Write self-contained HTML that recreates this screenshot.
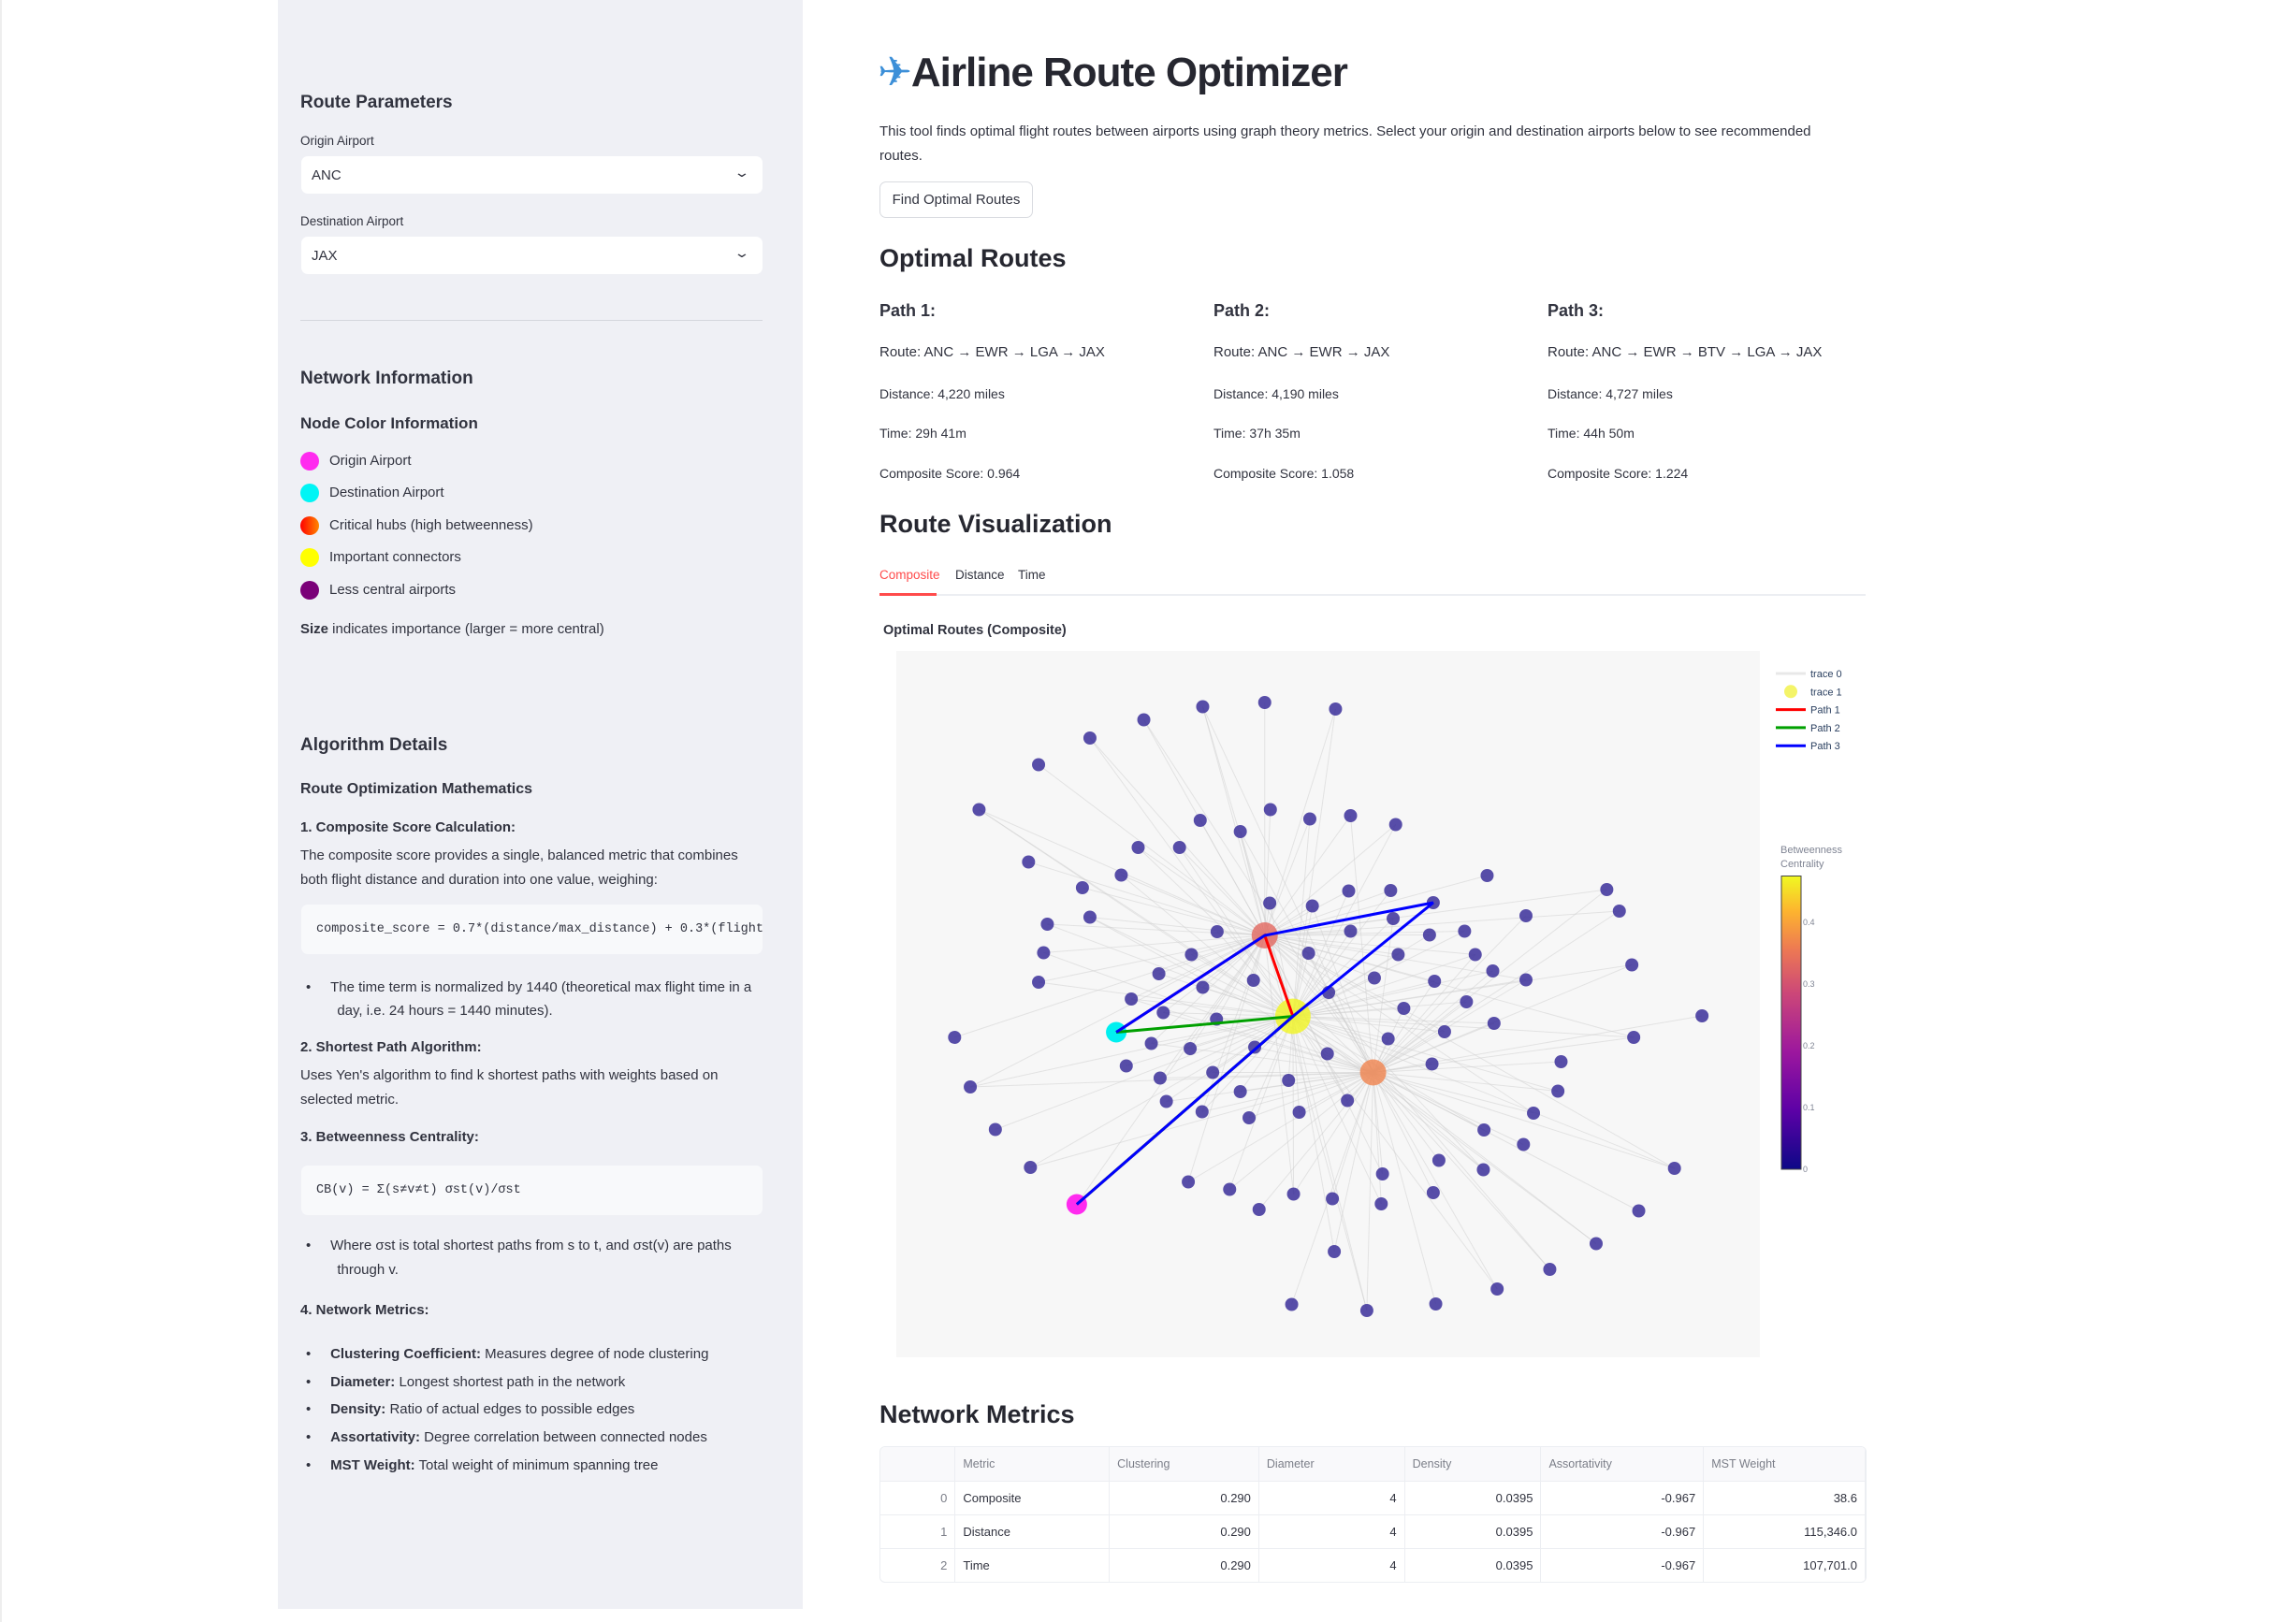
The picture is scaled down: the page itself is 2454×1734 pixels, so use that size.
<!DOCTYPE html>
<html><head><meta charset="utf-8">
<style>
*{box-sizing:border-box;margin:0;padding:0}
body{width:2454px;height:1734px;background:#fff;font-family:"Liberation Sans",sans-serif;color:#31333f;position:relative;overflow:hidden}
.a{position:absolute;white-space:nowrap}
#sidebar{position:absolute;left:297px;top:0;width:561px;height:1720px;background:#eff0f5}
.h3{font-weight:bold;font-size:19px;color:#31333f}
.lbl{font-size:13.5px}
.sel{position:absolute;left:322px;width:493px;height:40px;background:#fff;border-radius:7px;font-size:15px;padding:12px 11px}
.sel span.chev{position:absolute;right:16px;top:9px;font-size:14px;transform:scaleX(1.5)}
.dot{position:absolute;width:20px;height:20px;border-radius:50%}
.t16{font-size:15px}
.code{position:absolute;left:322px;width:493px;background:#f8f9fb;border-radius:7px;font-family:"Liberation Mono",monospace;font-size:13.5px;padding:0 16px;overflow:hidden;white-space:nowrap;color:#31333f}
.main15{font-size:15px}
table{border-collapse:collapse}
</style></head>
<body>
<div style="position:absolute;left:0;top:0;width:2px;height:1734px;background:#eee"></div>
<div id="sidebar"></div>

<div class="a h3" style="left:321px;top:99px">Route Parameters</div>
<div class="a lbl" style="left:321px;top:143px">Origin Airport</div>
<div class="sel" style="top:167px">ANC<span class="chev">⌄</span></div>
<div class="a lbl" style="left:321px;top:229px">Destination Airport</div>
<div class="sel" style="top:253px">JAX<span class="chev">⌄</span></div>
<div class="a" style="left:321px;top:342px;width:494px;height:1px;background:#d5d7dd"></div>

<div class="a h3" style="left:321px;top:394px">Network Information</div>
<div class="a" style="left:321px;top:443px;font-size:17px;font-weight:bold">Node Color Information</div>
<div class="dot" style="left:321px;top:483px;background:#ff2bef"></div>
<div class="a t16" style="left:352px;top:484px">Origin Airport</div>
<div class="dot" style="left:321px;top:517px;background:#00f5f5"></div>
<div class="a t16" style="left:352px;top:518px">Destination Airport</div>
<div class="dot" style="left:321px;top:552px;background:linear-gradient(90deg,#f00,#f80)"></div>
<div class="a t16" style="left:352px;top:553px">Critical hubs (high betweenness)</div>
<div class="dot" style="left:321px;top:586px;background:#ffff00"></div>
<div class="a t16" style="left:352px;top:587px">Important connectors</div>
<div class="dot" style="left:321px;top:621px;background:#7a0078"></div>
<div class="a t16" style="left:352px;top:622px">Less central airports</div>
<div class="a t16" style="left:321px;top:664px"><b>Size</b> indicates importance (larger = more central)</div>

<div class="a h3" style="left:321px;top:786px">Algorithm Details</div>
<div class="a" style="left:321px;top:835px;font-size:16px;font-weight:bold">Route Optimization Mathematics</div>
<div class="a" style="left:321px;top:876px;font-size:15px;font-weight:bold">1. Composite Score Calculation:</div>
<div class="a t16" style="left:321px;top:902px;line-height:26px">The composite score provides a single, balanced metric that combines<br>both flight distance and duration into one value, weighing:</div>
<div class="code" style="top:967px;height:53px;line-height:53px">composite_score = 0.7*(distance/max_distance) + 0.3*(flight_time/1440)</div>
<div class="a" style="left:327px;top:1043px;font-size:15px;line-height:25px">•&nbsp;&nbsp;&nbsp;&nbsp;&nbsp;The time term is normalized by 1440 (theoretical max flight time in a<br>&nbsp;&nbsp;&nbsp;&nbsp;&nbsp;&nbsp;&nbsp;&nbsp;day, i.e. 24 hours = 1440 minutes).</div>
<div class="a" style="left:321px;top:1111px;font-size:15px;font-weight:bold">2. Shortest Path Algorithm:</div>
<div class="a t16" style="left:321px;top:1137px;line-height:26px">Uses Yen's algorithm to find k shortest paths with weights based on<br>selected metric.</div>
<div class="a" style="left:321px;top:1207px;font-size:15px;font-weight:bold">3. Betweenness Centrality:</div>
<div class="code" style="top:1246px;height:53px;line-height:53px">CB(v) = Σ(s≠v≠t) σst(v)/σst</div>
<div class="a" style="left:327px;top:1319px;font-size:15px;line-height:26px">•&nbsp;&nbsp;&nbsp;&nbsp;&nbsp;Where σst is total shortest paths from s to t, and σst(v) are paths<br>&nbsp;&nbsp;&nbsp;&nbsp;&nbsp;&nbsp;&nbsp;&nbsp;through v.</div>
<div class="a" style="left:321px;top:1392px;font-size:15px;font-weight:bold">4. Network Metrics:</div>
<div class="a" style="left:327px;top:1433px;font-size:15px;line-height:29.7px">
•&nbsp;&nbsp;&nbsp;&nbsp;&nbsp;<b>Clustering Coefficient:</b> Measures degree of node clustering<br>
•&nbsp;&nbsp;&nbsp;&nbsp;&nbsp;<b>Diameter:</b> Longest shortest path in the network<br>
•&nbsp;&nbsp;&nbsp;&nbsp;&nbsp;<b>Density:</b> Ratio of actual edges to possible edges<br>
•&nbsp;&nbsp;&nbsp;&nbsp;&nbsp;<b>Assortativity:</b> Degree correlation between connected nodes<br>
•&nbsp;&nbsp;&nbsp;&nbsp;&nbsp;<b>MST Weight:</b> Total weight of minimum spanning tree</div>

<!-- MAIN -->
<div class="a" style="left:938px;top:52px;font-size:44px;font-weight:bold;letter-spacing:-1px;color:#262730"><span style="color:#3c8fd8;font-family:'DejaVu Sans',sans-serif">✈</span>Airline Route Optimizer</div>
<div class="a main15" style="left:940px;top:128px;line-height:26px">This tool finds optimal flight routes between airports using graph theory metrics. Select your origin and destination airports below to see recommended<br>routes.</div>
<div class="a" style="left:940px;top:194px;width:164px;height:39px;border:1px solid #d9dbe0;border-radius:7px;font-size:15px;text-align:center;line-height:37px">Find Optimal Routes</div>
<div class="a" style="left:940px;top:261px;font-size:27px;font-weight:bold;color:#262730">Optimal Routes</div>

<div class="a" style="left:940px;top:322px;font-size:18px;font-weight:bold">Path 1:</div>
<div class="a main15" style="left:940px;top:368px">Route: ANC → EWR → LGA → JAX</div>
<div class="a" style="left:940px;top:413px;font-size:14px">Distance: 4,220 miles</div>
<div class="a" style="left:940px;top:455px;font-size:14px">Time: 29h 41m</div>
<div class="a" style="left:940px;top:498px;font-size:14px">Composite Score: 0.964</div>

<div class="a" style="left:1297px;top:322px;font-size:18px;font-weight:bold">Path 2:</div>
<div class="a main15" style="left:1297px;top:368px">Route: ANC → EWR → JAX</div>
<div class="a" style="left:1297px;top:413px;font-size:14px">Distance: 4,190 miles</div>
<div class="a" style="left:1297px;top:455px;font-size:14px">Time: 37h 35m</div>
<div class="a" style="left:1297px;top:498px;font-size:14px">Composite Score: 1.058</div>

<div class="a" style="left:1654px;top:322px;font-size:18px;font-weight:bold">Path 3:</div>
<div class="a main15" style="left:1654px;top:368px">Route: ANC → EWR → BTV → LGA → JAX</div>
<div class="a" style="left:1654px;top:413px;font-size:14px">Distance: 4,727 miles</div>
<div class="a" style="left:1654px;top:455px;font-size:14px">Time: 44h 50m</div>
<div class="a" style="left:1654px;top:498px;font-size:14px">Composite Score: 1.224</div>

<div class="a" style="left:940px;top:545px;font-size:27px;font-weight:bold;color:#262730">Route Visualization</div>
<div class="a" style="left:940px;top:607px;font-size:13.5px;color:#ff4b4b">Composite</div>
<div class="a" style="left:1021px;top:607px;font-size:13.5px">Distance</div>
<div class="a" style="left:1088px;top:607px;font-size:13.5px">Time</div>
<div class="a" style="left:940px;top:635px;width:1054px;height:2px;background:#eceef2"></div>
<div class="a" style="left:940px;top:634px;width:61px;height:3px;background:#ff4b4b"></div>
<div class="a" style="left:944px;top:666px;font-size:14.5px;font-weight:bold">Optimal Routes (Composite)</div>

<svg id="chart" class="a" style="left:0;top:0" width="2454" height="1734">
<defs><linearGradient id="plasma" x1="0" y1="1" x2="0" y2="0">
<stop offset="0" stop-color="#0d0887"/><stop offset="0.2" stop-color="#5c01a6"/><stop offset="0.4" stop-color="#9c179e"/><stop offset="0.6" stop-color="#cc4778"/><stop offset="0.75" stop-color="#ed7953"/><stop offset="0.88" stop-color="#fdb42f"/><stop offset="1" stop-color="#f0f921"/></linearGradient></defs>
<rect x="958" y="696" width="923" height="755" fill="#f7f7f7"></rect>
<g id="edges"></g><g id="paths"></g><g id="nodes"></g><g id="legend"></g>
</svg>

<div class="a" style="left:940px;top:1497px;font-size:27px;font-weight:bold;color:#262730">Network Metrics</div>
<div class="a" style="left:940px;top:1546px;width:1055px;border:1px solid #eceef2;border-radius:6px;overflow:hidden">
<table id="tbl" style="width:100%;font-size:13px"></table></div>

<script>
// ---- chart data (layout units) ----
const nodeX=[501,600,713,407,321,239,144,223,253,247,239,105,130,170,226,478,544,591,646,708,786,788,711,643,763,873,971,1055,1129,1197,1254,1013,950,1029,1068,1073,1189,1298,1186,1166,1146,1017,1017,955,919,936,964,863,871,922,966,887,867,878,949,869,809,737,672,609,561,497,464,398,371,309,321,524,608,676,734,801,805,737,813,670,483,431,387,501,582,702,775,822,797,700,638,732,655,575,500,561,443,433,517,379,419,481,584,438,523];
const nodeY=[151,142,156,179,218,275,371,483,616,677,740,858,964,1055,1136,1167,1183,1226,1193,1203,1214,1150,1316,1429,1442,1428,1396,1354,1299,1229,1138,1087,1056,1020,973,910,858,812,703,588,542,598,735,512,631,681,716,639,738,782,828,846,915,1121,1141,1190,403,384,391,371,418,394,452,452,511,538,601,632,571,577,545,544,604,631,681,678,681,722,776,751,736,762,731,796,861,893,950,993,1018,1030,1017,974,995,945,933,919,871,882,879,805,819];
// special nodes
const originNode=[300,1215];
const destNode=[363,847];
const hubNames=["EWR","LGA","HUB3","BTV"];
const hubX=[645,600,773,869];
const hubY=[813,640,933,570];
const hubBetweenness=[0.47,0.29,0.33,0.0];
const path1=["ANC","EWR","LGA","JAX"];
const path2=["ANC","EWR","JAX"];
const path3=["ANC","EWR","BTV","LGA","JAX"];
const cbTicks=[0,0.1,0.2,0.3,0.4];
const legendNames=["trace 0","trace 1","Path 1","Path 2","Path 3"];

const X=v=>950+v*0.6696, Y=v=>680+v*0.5;
const cbY=v=>1250-v*660;
const NS="http://www.w3.org/2000/svg";
function mk(tag,attrs,parent){const e=document.createElementNS(NS,tag);for(const k in attrs)e.setAttribute(k,attrs[k]);parent.appendChild(e);return e;}
function plasma(t){const s=[[13,8,135],[92,1,166],[156,23,158],[204,71,120],[237,121,83],[253,180,47],[240,249,33]];t=Math.max(0,Math.min(1,t/0.475))*6;const i=Math.min(5,Math.floor(t)),f=t-i;const c=s[i].map((a,j)=>Math.round(a+(s[i+1][j]-a)*f));return `rgb(${c})`;}
const pos={ANC:originNode,JAX:destNode};
hubNames.forEach((n,i)=>pos[n]=[hubX[i],hubY[i]]);

const eg=document.getElementById('edges');
const allHubs=[[hubX[0],hubY[0]],[hubX[1],hubY[1]],[hubX[2],hubY[2]]];
function edge(a,b){const l=mk('line',{x1:X(a[0]),y1:Y(a[1]),x2:X(b[0]),y2:Y(b[1]),stroke:'#cfcfcf','stroke-width':1,opacity:0.5},eg);

}
nodeX.forEach((x,i)=>{const y=nodeY[i];
  const d=allHubs.map(h=>Math.hypot(h[0]-x,h[1]-y));
  const order=[0,1,2].sort((a,b)=>d[a]-d[b]);
  edge([x,y],allHubs[order[0]]);
  if(i%2===0||d[order[1]]<350) edge([x,y],allHubs[order[1]]);
  if(i%3===0) edge([x,y],allHubs[order[2]]);
});
[originNode,destNode,[hubX[3],hubY[3]]].forEach(p=>{edge(p,allHubs[0]);edge(p,allHubs[1]);});

const ng=document.getElementById('nodes');
nodeX.forEach((x,i)=>{const c=mk('circle',{cx:X(x),cy:Y(nodeY[i]),r:7,fill:'#3b2f9a',opacity:0.85},ng);

});
hubNames.forEach((n,i)=>{const b=hubBetweenness[i];const r=b>0.4?19:(b>0.1?14:7);
 const c=mk('circle',{cx:X(hubX[i]),cy:Y(hubY[i]),r:r,fill:b>0.1?plasma(b):'#3b2f9a',opacity:b>0.1?0.8:0.85},ng);
 
 });
let o=mk('circle',{cx:X(originNode[0]),cy:Y(originNode[1]),r:11,fill:'#ff2bef'},ng);


let dn=mk('circle',{cx:X(destNode[0]),cy:Y(destNode[1]),r:11,fill:'#00f0f0'},ng);



const pg=document.getElementById('paths');
[[path1,'#ff0000','path-1'],[path2,'#00a000','path-2'],[path3,'#0000ff','path-3']].forEach(([p,col,name])=>{
 const pts=p.map(n=>X(pos[n][0])+','+Y(pos[n][1])).join(' ');
 const pl=mk('polyline',{points:pts,fill:'none',stroke:col,'stroke-width':3},pg);
 
 });
document.getElementById('chart').appendChild(pg);

const lg=document.getElementById('legend');
const lcol=['#e8e8e8',null,'#ff0000','#00a000','#0000ff'];
legendNames.forEach((n,i)=>{const y=720+i*19.3;
 if(i===1){const c=mk('circle',{cx:1914,cy:y,r:7,fill:'#f4f468'},lg);}
 else{const l=mk('line',{x1:1898,y1:y,x2:1930,y2:y,stroke:lcol[i],'stroke-width':3},lg);}
 const t=mk('text',{x:1935,y:y+4,'font-size':11,fill:'#2a3f5f','font-family':'Liberation Sans, sans-serif'},lg);t.textContent=n;
 
 });
let ct=mk('text',{x:1903,y:912,'font-size':11,fill:'#7f8493','font-family':'Liberation Sans, sans-serif'},lg);ct.textContent='Betweenness';

ct=mk('text',{x:1903,y:927,'font-size':11,fill:'#7f8493','font-family':'Liberation Sans, sans-serif'},lg);ct.textContent='Centrality';

let cb=mk('rect',{x:1904,y:cbY(0.475),width:21,height:cbY(0)-cbY(0.475),fill:'url(#plasma)',stroke:'#444','stroke-width':1},lg);

cbTicks.forEach(v=>{const t=mk('text',{x:1927,y:cbY(v)+3,'font-size':9,fill:'#7f8493','font-family':'Liberation Sans, sans-serif'},lg);t.textContent=String(v);
 });

// ---- table ----
const tblCols=["","Metric","Clustering","Diameter","Density","Assortativity","MST Weight"];
const tblMetric=["Composite","Distance","Time"];
const tblClustering=["0.290","0.290","0.290"];
const tblDiameter=["4","4","4"];
const tblDensity=["0.0395","0.0395","0.0395"];
const tblAssort=["-0.967","-0.967","-0.967"];
const tblMST=["38.6","115,346.0","107,701.0"];
const widths=[80,165,160,156,146,174,173];
const tb=document.getElementById('tbl');
let tr=document.createElement('tr');tr.style.height='36px';tr.style.background='#f9f9fb';tb.appendChild(tr);
tblCols.forEach((c,i)=>{const th=document.createElement('td');th.textContent=c;th.style.cssText=`width:${widths[i]}px;color:#7b7e88;padding-left:8px;border-right:1px solid #eceef2;border-bottom:1px solid #eceef2;font-size:12.5px`;
 tr.appendChild(th);});
tblMetric.forEach((m,r)=>{const row=document.createElement('tr');row.style.height='36px';tb.appendChild(row);
 [String(r),m,tblClustering[r],tblDiameter[r],tblDensity[r],tblAssort[r],tblMST[r]].forEach((v,i)=>{const td=document.createElement('td');td.textContent=v;
 td.style.cssText=`padding:0 8px;border-right:1px solid #eceef2;border-bottom:${r<2?1:0}px solid #eceef2;text-align:${i===1?'left':'right'};color:${i===0?'#7b7e88':'#31333f'}`;
 row.appendChild(td);});});
</script>
</body></html>
